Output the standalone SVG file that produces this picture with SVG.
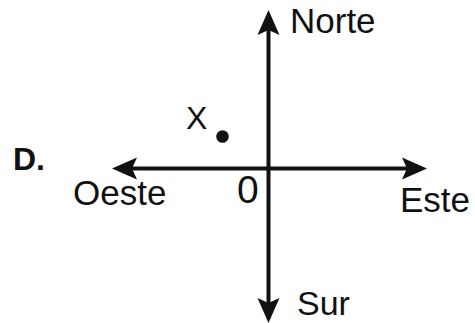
<svg xmlns="http://www.w3.org/2000/svg" width="475" height="323" viewBox="0 0 475 323">
<style>
.t{font-family:"Liberation Sans",Arial,sans-serif;fill:#111;}
.ax{stroke:#111;stroke-width:4;fill:none;}
.ah{fill:#111;}
</style>
<defs>
<path id="ah" d="M0,0 L-25,-11 L-20,0 L-25,11 Z"/>
</defs>
<rect width="475" height="323" fill="#fff"/>
<g id="connectors">
<line class="ax" x1="118" y1="168.5" x2="421" y2="168.5"/>
<line class="ax" x1="268.5" y1="16" x2="268.5" y2="317"/>
<use href="#ah" class="ah" transform="translate(427,168.5)"/>
<use href="#ah" class="ah" transform="translate(112,168.5) rotate(180)"/>
<use href="#ah" class="ah" transform="translate(268.5,10) rotate(-90)"/>
<use href="#ah" class="ah" transform="translate(268.5,323) rotate(90)"/>
</g>
<g id="label-D"><text class="t" x="13" y="170" font-size="32" font-weight="bold">D.</text></g>
<g id="norte"><text class="t" x="290" y="33" font-size="35">Norte</text></g>
<g id="sur"><text class="t" x="297" y="315" font-size="34">Sur</text></g>
<g id="oeste"><text class="t" x="73" y="205" font-size="35">Oeste</text></g>
<g id="este"><text class="t" x="400" y="212" font-size="35">Este</text></g>
<g id="origin"><text class="t" x="237" y="203" font-size="39">0</text></g>
<g id="point-X">
<text class="t" x="186" y="129" font-size="32">X</text>
<circle cx="222.5" cy="136.5" r="6.3" fill="#111"/>
</g>
</svg>
